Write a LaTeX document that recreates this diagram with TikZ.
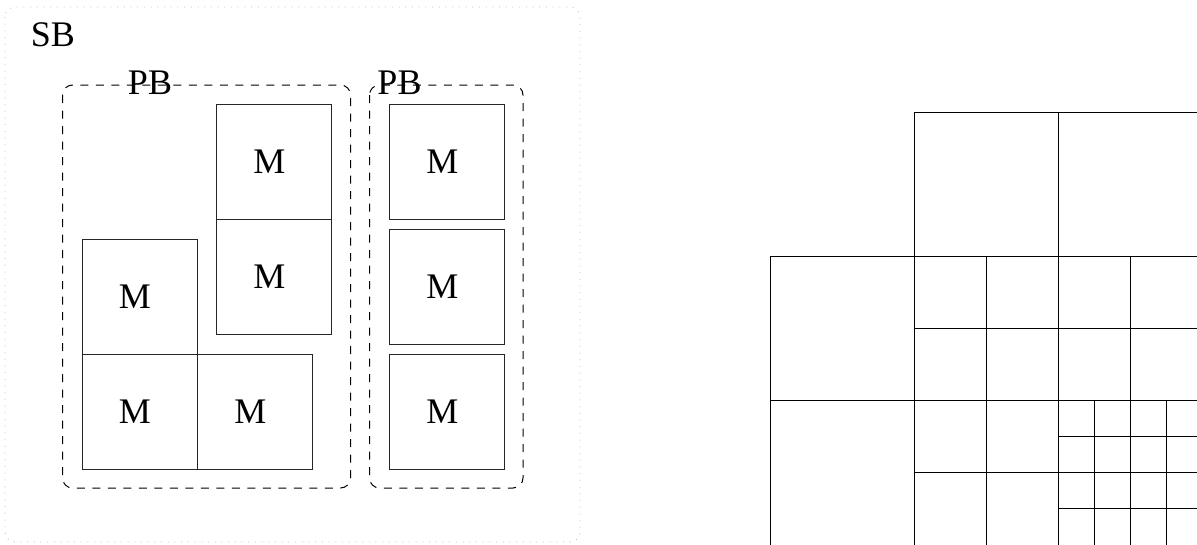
\documentclass[tikz,border=0pt]{standalone}
\usepackage{fontspec}
\setmainfont{Liberation Serif}
\begin{document}
\begin{tikzpicture}[x=1pt,y=-1pt,
  txt/.style={font=\fontsize{36}{42}\selectfont, inner sep=0pt},
  mbox/.style={draw=black!85, line width=0.9pt, minimum width=115pt, minimum height=115pt,
    inner sep=0pt, anchor=north west, font=\fontsize{36}{42}\selectfont},
  pbbox/.style={draw=black, line width=1pt, dash pattern=on 8pt off 7.5pt, rounded corners=10pt},
  sbbox/.style={draw=black!25, line width=0.8pt, dash pattern=on 1pt off 5.7pt, rounded corners=10pt},
  gridline/.style={draw=black, line width=1pt}
]
\useasboundingbox (0,0) rectangle (1197,544);

% SB outer region
\draw[sbbox] (5,7) rectangle (580,542);
\node[txt] (sb) at (53,35) {SB};

% PB regions
\draw[pbbox] (62.5,85) rectangle (350.5,488);
\draw[pbbox] (369.5,85) rectangle (523,488);
\node[txt] (pb1) at (150,83) {PB};
\node[txt] (pb2) at (399.5,83) {PB};

% M blocks
\node[mbox] (m1) at (216,104)   {M\kern9pt};
\node[mbox] (m2) at (216,219)   {M\kern9pt};
\node[mbox] (m3) at (81.5,238.5) {M\kern9pt};
\node[mbox] (m4) at (81.5,353.5) {M\kern9pt};
\node[mbox] (m5) at (197,353.5) {M\kern9pt};
\node[mbox] (m6) at (389,104)   {M\kern9pt};
\node[mbox] (m7) at (389,229)   {M\kern9pt};
\node[mbox] (m8) at (389,354)   {M\kern9pt};

% quadtree grid
\begin{scope}
\clip (0,0) rectangle (1197,544);
% horizontal lines
\draw[gridline] (914,112.7) -- (1202,112.7);
\draw[gridline] (770,256.7) -- (1202,256.7);
\draw[gridline] (914,328.7) -- (1202,328.7);
\draw[gridline] (770,400.7) -- (1202,400.7);
\draw[gridline] (1058,436.7) -- (1202,436.7);
\draw[gridline] (914,472.7) -- (1202,472.7);
\draw[gridline] (1058,508.7) -- (1202,508.7);
% vertical lines
\draw[gridline] (770,256.7) -- (770,546);
\draw[gridline] (914,112.7) -- (914,546);
\draw[gridline] (986,256.7) -- (986,546);
\draw[gridline] (1058,112.7) -- (1058,546);
\draw[gridline] (1094,400.7) -- (1094,546);
\draw[gridline] (1130,256.7) -- (1130,546);
\draw[gridline] (1166,400.7) -- (1166,546);
\end{scope}
\end{tikzpicture}
\end{document}
